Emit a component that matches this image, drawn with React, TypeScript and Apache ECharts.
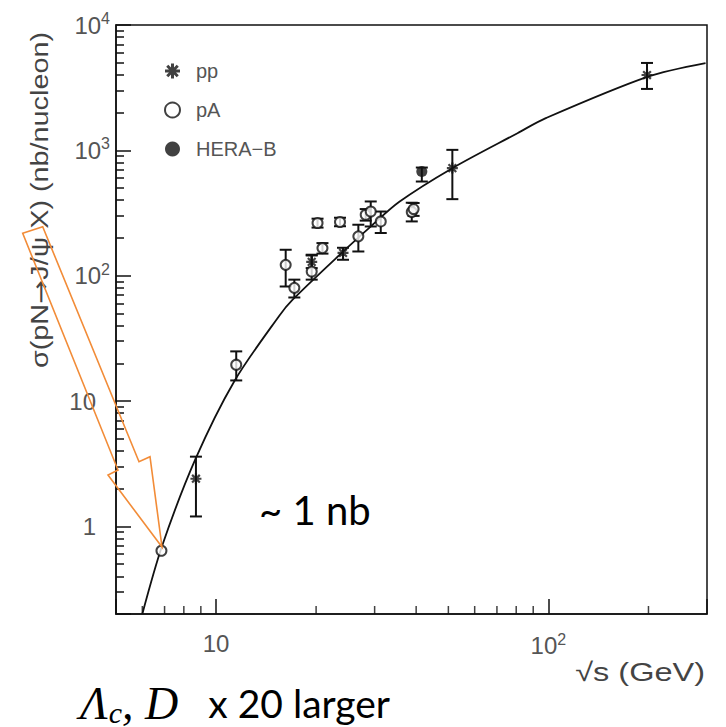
import React, { useEffect, useRef } from 'react';
import * as echarts from 'echarts';

// [sqrt(s) GeV, sigma nb/nucleon, low, high]
const ppData = [
  [8.7, 2.4, 1.2, 3.6],
  [19.4, 129, 115, 145],
  [24.1, 152, 134, 167],
  [51.4, 722, 408, 1009],
  [198, 3990, 3090, 4980],
];
const pAData = [
  [6.85, 0.64, 0.64, 0.64],
  [11.5, 19.5, 14.6, 24.9],
  [16.2, 122, 82, 161],
  [17.2, 80, 67, 93],
  [19.4, 108, 93, 147],
  [20.2, 263, 242, 285],
  [20.9, 166, 150, 182],
  [23.6, 268, 248, 290],
  [26.8, 206, 156, 255],
  [28.2, 306, 275, 340],
  [29.2, 325, 247, 391],
  [31.3, 271, 219, 325],
  [38.8, 322, 271, 382],
  [39.3, 340, 300, 380],
];
const heraData = [[41.6, 678, 564, 729]];

const curveX = [6.0, 6.88, 8.66, 11.35, 15.5, 17.0, 24.0, 28.9, 35.6, 51.4, 80.7, 98.2, 198.5, 297];
const curveY = [0.2, 0.697, 3.42, 14.4, 48.0, 64.4, 154, 241, 389, 721, 1371, 1806, 3853, 4955];

const xMinorTicks = [6, 7, 8, 9, 20, 30, 40, 50, 60, 70, 80, 90, 200];
const yMinorTicks = [
  0.3, 0.4, 0.5, 0.6, 0.7, 0.8, 0.9,
  2, 3, 4, 5, 6, 7, 8, 9,
  20, 30, 40, 50, 60, 70, 80, 90,
  200, 300, 400, 500, 600, 700, 800, 900,
  2000, 3000, 4000, 5000, 6000, 7000, 8000, 9000,
];

const X_MIN = 5, X_MAX = 300, Y_MIN = 0.2, Y_MAX = 10000;

const STAR = 'path://M-1,-5h2v10h-2zM-5,-1h10v2h-10zM-4.2,-2.8L-2.8,-4.2L4.2,2.8L2.8,4.2zM2.8,-4.2L4.2,-2.8L-2.8,4.2L-4.2,2.8z';

const expOf = (v: number) => {
  const e = Math.log10(v);
  if (Math.abs(e - Math.round(e)) > 1e-6) return null;
  return Math.round(e);
};

const labelRich = {
  b: { fontSize: 24, color: '#555', fontFamily: 'Liberation Sans' },
  p: { fontSize: 24, color: '#555', fontFamily: 'Liberation Sans', padding: [0, 14, 0, 0] },
  sup: { fontSize: 16, color: '#555', fontFamily: 'Liberation Sans', padding: [0, 0, 13, 0] },
};

export default function App() {
  const ref = useRef<HTMLDivElement>(null);
  useEffect(() => {
    if (!ref.current) return;
    const chart = echarts.init(ref.current, null, { renderer: 'svg' });
    const errData = [...ppData, ...pAData, ...heraData]
      .filter((d) => d[3] > d[2])
      .map((d) => [d[0], d[2], d[3]]);
    const axisLine = { lineStyle: { color: '#111', width: 1.5 } };
    const option: any = {
      animation: false,
      backgroundColor: '#fff',
      grid: { left: 116, right: 19, top: 25, bottom: 113, show: true, borderColor: '#111', borderWidth: 1.5, outerBoundsMode: 'none' },
      legend: {
        data: ['pp', 'pA', 'HERA−B'],
        orient: 'vertical',
        left: 159,
        top: 56,
        itemWidth: 15,
        itemHeight: 15,
        itemGap: 19,
        selectedMode: false,
        textStyle: { fontSize: 20, color: '#555', fontFamily: 'Liberation Sans', padding: [0, 0, 0, 11] },
      },
      xAxis: [
        {
          type: 'log', logBase: 10, min: X_MIN, max: X_MAX,
          axisLine,
          splitLine: { show: false },
          axisTick: { inside: true, length: 15, lineStyle: { color: '#111', width: 1.5 } },
          axisLabel: {
            margin: 17,
            formatter: (v: number) => {
              const e = expOf(v);
              if (e === 1) return '{b|10}';
              if (e === 2) return '{b|10}{sup|2}';
              return '';
            },
            rich: labelRich,
          },
        },
      ],
      yAxis: [
        {
          type: 'log', logBase: 10, min: Y_MIN, max: Y_MAX, position: 'left',
          axisLine,
          splitLine: { show: false },
          axisTick: { inside: true, length: 15, lineStyle: { color: '#111', width: 1.5 } },
          axisLabel: {
            margin: 6,
            formatter: (v: number) => {
              const e = expOf(v);
              if (e === 0) return '{p|1}';
              if (e === 1) return '{p|10}';
              if (e === 2 || e === 3 || e === 4) return '{b|10}{sup|' + e + '}';
              return '';
            },
            rich: labelRich,
          },
        },
        {
          // minor ticks of the same log scale
          type: 'log', logBase: 10, min: Y_MIN, max: Y_MAX, position: 'left', offset: 0,
          axisLine: { show: false },
          splitLine: { show: false },
          axisLabel: { show: false },
          axisTick: { show: true, inside: true, length: 8, customValues: yMinorTicks, lineStyle: { color: '#111', width: 1.5 } },
        },
      ],
      series: [
        {
          type: 'scatter', name: 'xMinorTick', silent: true, z: 5, clip: false,
          data: xMinorTicks.map((v) => [v, Y_MIN]),
          symbol: 'rect', symbolSize: [1.5, 8], symbolOffset: [0, -4],
          itemStyle: { color: '#111' },
        },
        {
          type: 'line', name: 'fit', silent: true, z: 2,
          data: curveX.map((x, i) => [x, curveY[i]]),
          showSymbol: false, symbol: 'none', smooth: 0.3,
          lineStyle: { color: '#111', width: 1.8 },
        },
        {
          type: 'custom', name: 'err', silent: true, z: 3,
          data: errData,
          encode: { x: 0, y: [1, 2] },
          renderItem: (params: any, api: any) => {
            const x = api.value(0);
            const top = api.coord([x, api.value(2)]);
            const bot = api.coord([x, api.value(1)]);
            const w = 6;
            const st = { stroke: '#111', lineWidth: 2 };
            return {
              type: 'group',
              children: [
                { type: 'line', shape: { x1: top[0], y1: top[1], x2: bot[0], y2: bot[1] }, style: st },
                { type: 'line', shape: { x1: top[0] - w, y1: top[1], x2: top[0] + w, y2: top[1] }, style: st },
                { type: 'line', shape: { x1: bot[0] - w, y1: bot[1], x2: bot[0] + w, y2: bot[1] }, style: st },
              ],
            };
          },
        },
        {
          type: 'scatter', name: 'pp', z: 4,
          data: ppData.map((d) => [d[0], d[1]]),
          symbol: STAR, symbolSize: 11,
          itemStyle: { color: '#111' },
        },
        {
          type: 'scatter', name: 'pA', z: 4,
          data: pAData.map((d) => [d[0], d[1]]),
          symbol: 'circle', symbolSize: 10,
          itemStyle: { color: '#fff', borderColor: '#111', borderWidth: 2 },
        },
        {
          type: 'scatter', name: 'HERA−B', z: 4,
          data: heraData.map((d) => [d[0], d[1]]),
          symbol: 'circle', symbolSize: 11,
          itemStyle: { color: '#111' },
        },
      ],
      graphic: [
        {
          type: 'text', x: 40, y: 200, rotation: Math.PI / 2, scaleX: 1.2, z: 10,
          style: {
            text: '{a|σ(pN}{r|→}{a|J/ψ X) (nb/nucleon)}',
            align: 'center', verticalAlign: 'middle',
            rich: {
              a: { fontSize: 24, fontFamily: 'Liberation Sans', fill: '#444' },
              r: { fontSize: 24, fontFamily: 'DejaVu Sans', fill: '#444' },
            },
          },
        },
        {
          type: 'text', x: 705, y: 672, scaleX: 1.25, z: 10,
          style: { text: '√s (GeV)', fontSize: 26, fontFamily: 'Liberation Sans', fill: '#444', align: 'right', verticalAlign: 'middle' },
        },
        {
          type: 'polygon', z: 20, silent: true,
          shape: { points: [[22.7, 233.3], [42.7, 226.7], [139, 461.7], [150, 456.7], [162, 547], [108, 475], [118, 470]] },
          style: { fill: 'none', stroke: '#F28C38', lineWidth: 1.6 },
        },
        {
          type: 'text', x: 259, y: 510, z: 10,
          style: { text: '~ 1 nb', fontSize: 40, fontFamily: 'Lato', fill: '#000', align: 'left', verticalAlign: 'middle' },
        },
        {
          type: 'text', x: 80, y: 703, z: 10,
          style: {
            text: '{m|Λ}{s|c}{m|, D}{t|x 20 larger}',
            align: 'left', verticalAlign: 'middle',
            rich: {
              m: { fontFamily: 'Liberation Serif', fontStyle: 'italic', fontSize: 46, fill: '#000' },
              s: { fontFamily: 'Liberation Serif', fontStyle: 'italic', fontSize: 30, fill: '#000', padding: [18, 0, 0, 1] },
              t: { fontFamily: 'Lato', fontSize: 39, fill: '#000', padding: [0, 0, 0, 30] },
            },
          },
        },
      ],
    };
    chart.setOption(option);
    return () => chart.dispose();
  }, []);
  return <div ref={ref} style={{ position: 'absolute', left: 0, top: 0, width: 726, height: 727 }} />;
}
